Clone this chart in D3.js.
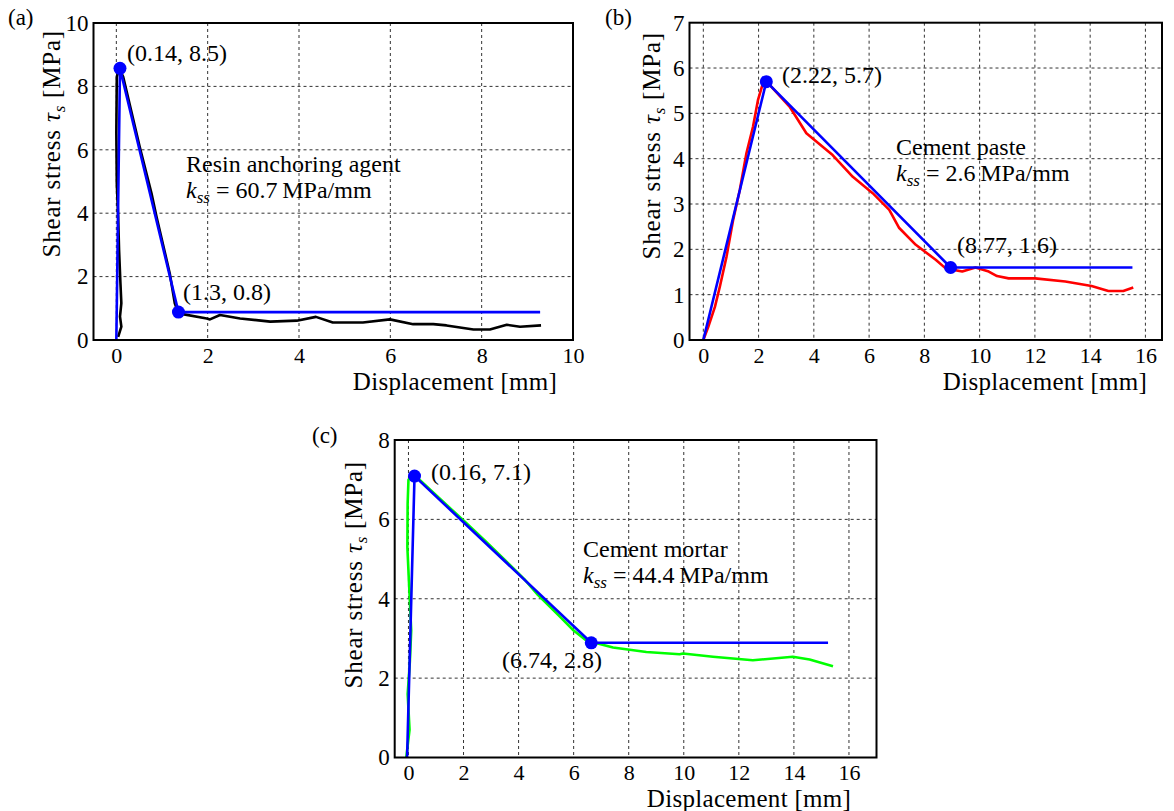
<!DOCTYPE html>
<html>
<head>
<meta charset="utf-8">
<script src="https://cdn.jsdelivr.net/npm/d3@7"></script>
<style>
  body { margin: 0; background: #fff; }
  svg text { font-family: "Liberation Serif", "DejaVu Serif", serif; fill: #000; }
  .grid line { stroke: #333; stroke-width: 1; stroke-dasharray: 3,3; }
</style>
</head>
<body>
<svg id="chart" width="1174" height="811"></svg>
<script>
// panel (a) resin anchoring agent
var resinX = [0.04,0.11,0.08,0.11,0.09,0.06,0.04,0.01,0.0,0.01,0.06,0.15,0.51,0.77,0.88,1.17,1.28,1.36,1.98,2.05,2.27,2.71,3.37,3.95,4.37,4.74,5.4,5.99,6.5,6.94,7.23,7.82,8.18,8.55,8.84,9.3];
var resinY = [0.1,0.42,0.74,1.16,1.79,2.84,3.89,4.94,6.52,8.3,8.57,8.3,6.1,4.63,3.89,2.1,1.16,0.84,0.68,0.65,0.79,0.68,0.58,0.61,0.73,0.55,0.55,0.65,0.5,0.5,0.46,0.33,0.33,0.48,0.42,0.46];
var resinFitX = [0, 0.08, 1.36, 9.28];
var resinFitY = [0, 8.57, 0.88, 0.88];

// panel (b) cement paste
var pasteX = [0,0.18,0.42,0.6,0.84,1.08,1.32,1.56,1.8,1.98,2.16,2.26,3.12,3.73,4.09,4.68,5.41,6.13,6.73,7.09,7.69,8.41,8.77,9.37,9.85,10.33,10.63,11.05,12.01,13.1,14.05,14.66,15.2,15.56];
var pasteY = [0,0.29,0.73,1.18,1.84,2.65,3.31,4.12,4.71,5.3,5.67,5.72,5.15,4.56,4.38,4.08,3.6,3.24,2.87,2.47,2.1,1.77,1.58,1.51,1.6,1.51,1.41,1.36,1.36,1.29,1.19,1.08,1.08,1.16];
var pasteFitX = [0, 2.28, 8.95, 15.53];
var pasteFitY = [0, 5.7, 1.6, 1.6];

// panel (c) cement mortar
var mortarX = [-0.08,0.04,-0.03,0.05,0.1,0.02,-0.04,-0.03,0.0,0.15,0.4,1.25,2.0,2.8,3.5,4.2,4.7,5.5,6.0,6.46,7.43,8.64,9.85,9.97,11.06,12.51,13.96,14.57,15.42];
var mortarY = [0,0.7,1.6,2.4,3.2,4.4,5.3,6.4,7.0,7.08,7.0,6.45,5.97,5.45,4.98,4.5,4.1,3.55,3.2,2.95,2.77,2.66,2.6,2.62,2.54,2.45,2.54,2.47,2.3];
var mortarFitX = [-0.05, 0.22, 6.64, 15.24];
var mortarFitY = [0, 7.09, 2.89, 2.89];

// tick values
var ticksXa = [0,2,4,6,8,10];
var ticksYa = [0,2,4,6,8,10];
var ticksXb = [0,2,4,6,8,10,12,14,16];
var ticksYb = [0,1,2,3,4,5,6,7];
var ticksXc = [0,2,4,6,8,10,12,14,16];
var ticksYc = [0,2,4,6,8];

var svg = d3.select("#chart");

function panel(p) {
    var x = d3.scaleLinear().domain(p.xdom).range([p.left, p.right]);
    var y = d3.scaleLinear().domain(p.ydom).range([p.bottom, p.top]);
    var g = svg.append("g");

    // grid
    var grid = g.append("g").attr("class", "grid");
    grid.selectAll(".gx").data(p.xt.filter(function(v){ return x(v) < p.right - 2; }))
        .enter().append("line")
        .attr("x1", function(d){ return x(d); }).attr("x2", function(d){ return x(d); })
        .attr("y1", p.top).attr("y2", p.bottom);
    grid.selectAll(".gy").data(p.yt.filter(function(v){ return y(v) > p.top + 2 && y(v) < p.bottom - 2; }))
        .enter().append("line")
        .attr("y1", function(d){ return y(d); }).attr("y2", function(d){ return y(d); })
        .attr("x1", p.left).attr("x2", p.right);

    // tick labels via axes
    var ax = g.append("g").attr("transform", "translate(0," + p.bottom + ")")
        .call(d3.axisBottom(x).tickValues(p.xt).tickSize(0).tickPadding(3).tickFormat(d3.format("d")));
    ax.select(".domain").remove();
    ax.selectAll("text").attr("font-size", 22).attr("dy", "0.9em");
    var ay = g.append("g").attr("transform", "translate(" + p.left + ",0)")
        .call(d3.axisLeft(y).tickValues(p.yt).tickSize(0).tickPadding(5).tickFormat(d3.format("d")));
    ay.select(".domain").remove();
    ay.selectAll("text").attr("font-size", 23);

    var line = d3.line().x(function(d){ return x(d[0]); }).y(function(d){ return y(d[1]); });

    g.append("path").datum(d3.zip(p.dx, p.dy))
        .attr("d", line).attr("fill", "none")
        .attr("stroke", p.color).attr("stroke-width", 2.6).attr("stroke-linejoin", "round");
    g.append("path").datum(d3.zip(p.fx, p.fy))
        .attr("d", line).attr("fill", "none")
        .attr("stroke", "#0000ff").attr("stroke-width", 2.6).attr("stroke-linejoin", "round");
    g.selectAll(".dot").data([1, 2]).enter().append("circle")
        .attr("cx", function(i){ return x(p.fx[i]); })
        .attr("cy", function(i){ return y(p.fy[i]); })
        .attr("r", 6.5).attr("fill", "#0000ff");

    // box
    g.append("rect").attr("x", p.left).attr("y", p.top)
        .attr("width", p.right - p.left).attr("height", p.bottom - p.top)
        .attr("fill", "none").attr("stroke", "#000").attr("stroke-width", 2);

    // axis labels
    g.append("text").attr("x", p.xlab[0]).attr("y", p.xlab[1])
        .attr("text-anchor", "middle").attr("font-size", 25).attr("letter-spacing", 0.3)
        .text("Displacement [mm]");
    var yl = g.append("text")
        .attr("transform", "translate(" + p.ylab[0] + "," + p.ylab[1] + ") rotate(-90)")
        .attr("text-anchor", "end").attr("font-size", 25).attr("letter-spacing", 0.8);
    yl.append("tspan").text("Shear stress ");
    yl.append("tspan").attr("font-style", "italic").text("\u03c4");
    yl.append("tspan").attr("font-style", "italic").attr("font-size", 17).attr("dy", 5).text("s");
    yl.append("tspan").attr("dy", -5).text(" [MPa]");

    // panel letter
    g.append("text").attr("x", p.letter[0]).attr("y", p.letter[1])
        .attr("font-size", 23).text(p.name);

    // point annotations
    p.notes.forEach(function(n) {
        g.append("text").attr("x", n[0]).attr("y", n[1]).attr("font-size", 24).text(n[2]);
    });

    // material + stiffness
    g.append("text").attr("x", p.mat[0]).attr("y", p.mat[1]).attr("font-size", 24).text(p.mat[2]);
    var k = g.append("text").attr("x", p.mat[0]).attr("y", p.mat[1] + 26).attr("font-size", 24);
    k.append("tspan").attr("font-style", "italic").text("k");
    k.append("tspan").attr("font-style", "italic").attr("font-size", 17).attr("dy", 5).text("ss");
    k.append("tspan").attr("dy", -5).text(" = " + p.mat[3] + "\u2009MPa/mm");
}

panel({
    name: "(a)", letter: [8, 25],
    left: 93.5, right: 573, top: 23, bottom: 340,
    xdom: [-0.5, 10], ydom: [0, 10], xt: ticksXa, yt: ticksYa,
    dx: resinX, dy: resinY, fx: resinFitX, fy: resinFitY, color: "#000000",
    xlab: [455, 390], ylab: [60, 30],
    notes: [[127, 61, "(0.14, 8.5)"], [183, 300, "(1.3, 0.8)"]],
    mat: [186, 172, "Resin anchoring agent", "60.7"]
});

panel({
    name: "(b)", letter: [605, 25],
    left: 689.5, right: 1162, top: 22.7, bottom: 340,
    xdom: [-0.5, 16.6], ydom: [0, 7], xt: ticksXb, yt: ticksYb,
    dx: pasteX, dy: pasteY, fx: pasteFitX, fy: pasteFitY, color: "#ff0000",
    xlab: [1045, 390], ylab: [660, 32],
    notes: [[782, 83, "(2.22, 5.7)"], [957, 253, "(8.77, 1.6)"]],
    mat: [896, 155, "Cement paste", "2.6"]
});

panel({
    name: "(c)", letter: [312, 443],
    left: 394.7, right: 876.5, top: 440, bottom: 757.5,
    xdom: [-0.5, 17], ydom: [0, 8], xt: ticksXc, yt: ticksYc,
    dx: mortarX, dy: mortarY, fx: mortarFitX, fy: mortarFitY, color: "#00ff00",
    xlab: [749, 807], ylab: [362, 461],
    notes: [[431, 480, "(0.16, 7.1)"], [502, 668, "(6.74, 2.8)"]],
    mat: [583, 557, "Cement mortar", "44.4"]
});
</script>
</body>
</html>
